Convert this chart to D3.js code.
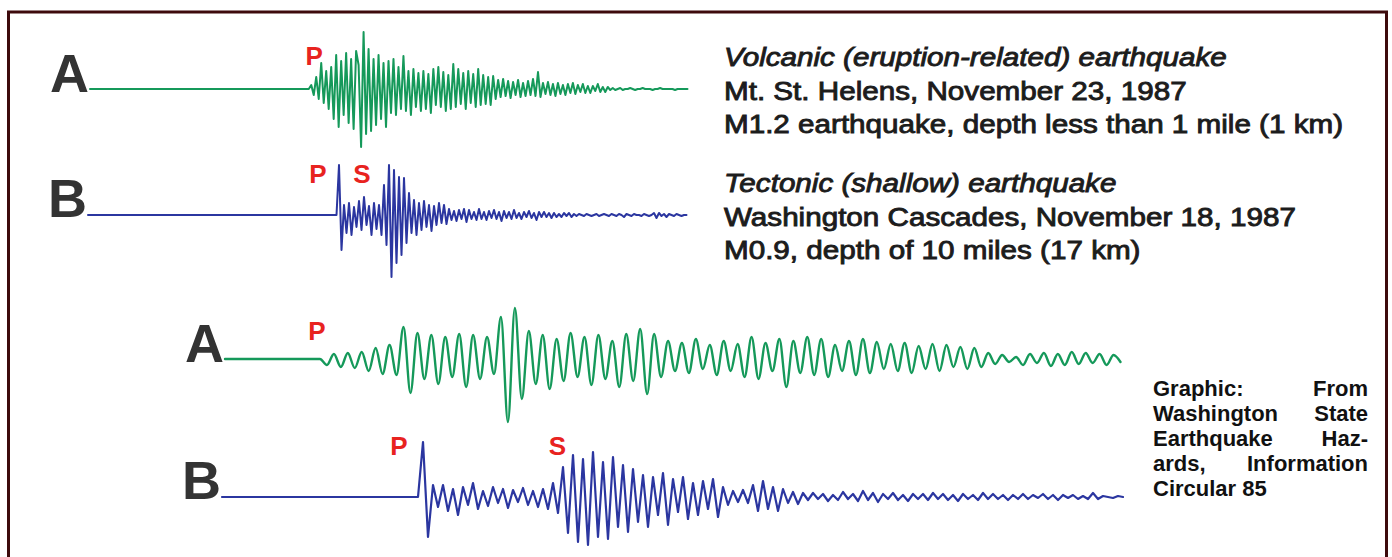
<!DOCTYPE html>
<html>
<head>
<meta charset="utf-8">
<script src="https://cdn.jsdelivr.net/npm/d3@7"></script>
<style>
  html, body { margin: 0; padding: 0; background: #fff; }
  svg { display: block; }
  .trace { fill: none; stroke-linejoin: round; stroke-linecap: round; }
  .big-label { font-family: 'Liberation Sans', Arial, sans-serif; font-weight: bold; fill: #333; }
  .phase { font-family: 'Liberation Sans', Arial, sans-serif; font-weight: bold; fill: #e8231f; }
  .desc { font-family: 'Liberation Sans', Arial, sans-serif; fill: #1c1c1c; stroke: #1c1c1c; stroke-width: 0.9; }
  .credit { font-family: 'Liberation Sans', Arial, sans-serif; font-weight: bold; fill: #111; }
</style>
</head>
<body>
<svg id="chart"></svg>
<script>
'use strict';

// upper pair: recordings at 0.25 s sampling, amplitudes in counts (up = +)
const seisA1 = [
    4, -6, 12, -10, 26, -14, 18, -20, 22,
    -30, 34, -38, 28, -26, 36, -34, 30, -40, 38, 24,
    -58, 57, -45,
    40, -42, 30, -36, 34, -30, 26, -38, 28, -24, 30, -26,
    22, -20, 33, -22, 18, -26, 20, -18, 16, -22,
    18, -20, 15, -24, 20, -16, 22, -18, 17, -22, 14, -20, 25, -18, 20, -15, 16, -20, 18, -14, 15, -18, 20, -16, 14, -15, 12, -16, 13,
    -10, 9, -8, 10, -7, 8, -9, 7, -6, 9, -8, 6, -7, 8, -6, 10, -7, 17, -8, 6, -5, 7, -6, 5, -7, 6, -5, 4, -6, 5, -4, 6, -5, 4, -3, 5, -4, 3, -4, 3, -2, 5, -3, 2, -3, 2,
    -1, 1, -1, 0, 1, -1, 0, 0, 1, 0, -1, 0, 0, 1, 0, 0, 0, -1, 0, 0, 1, 0, 0, 0, 0, 0, -1, 0, 0, 0, 0, 0
];

const seisB1 = [
    50, -35, 10, -18, 12, -20, 8,
    -12, 14, -15, 18, -10, 9, -20, 12, -14, 10,
    -20, 30, -30, 50, -62, 45, -48, 38, -40, 37,
    -28, 22, -18, 15, -20, 12, -15, 14, -12, 10, -16, 9, -10, 12, -8, 10, -9,
    6, -5, 4, -6, 5, -4, 6, -7, 5, -4, 3, -5, 6, -4, 3, -5, 4, -3, 5, -4, 3, -6, 4, -3, 3, -4, 5, -3, 2, -4, 3, -2, 4, -3, 2, -5, 3, -2, 3, -2, 2, -3, 2, -2, 1, -2, 2, -1, 2, -2, 1, -1, 1,
    0, -1, 1, 0, -1, 0, 1, -1, 0, 1, 0, -1, 1, 0, -1, 1, 0, -2, 1, 0, -1, 1, 0, 0, -1, 1, 0, -1, 0, 2, -3, 2, -1, 1, -2, 1, 0, -1, 1, 0, -1, 0, 0
];

// lower pair: longer records, peaks read at 0.7 s and 0.5 s
const seisA2 = [
    0,
    -6, 5, -8, 6, -9, 7,
    -12, 11, -15, 14, -16,
    32, -34,
    26, -20, 24, -25, 22, -18, 25, -28, 24, -20, 22, -15,
    42, -63, 51, -40,
    28, -25, 24, -30, 20, -22, 26, -18, 22, -26, 24, -20, 18, -28, 25, -22, 30, -35, 25,
    -18, 18, -12, 16, -14, 20, -10, 14, -16, 18, -12, 15, -18, 22, -20, 16, -12, 20, -28, 18, -14, 22, -16, 20, -18, 14, -12, 18, -16, 20, -14, 17, -10, 15, -12, 16, -14, 13, -10, 15, -12, 14, -8, 12, -10, 11, -8,
    6, -5, 4, -3, 2, -6, 5, -4, 6, -7, 5, -6, 7, -5, 6, -4, 5, -6, 4, -3
];

const seisB2 = [
    55, -40, 12,
    -10, 12, -14, 8, -18, 10, -8, 14, -12, 6, -9, 10, -6, 8, -11, 7, -5, 9, -8, 6, -10, 8, -12, 14, -16,
    30, -36, 42, -45, 38, -48, 45, -40, 35, -42, 40, -30, 32, -35,
    28, -25, 22, -30, 20, -18, 24, -28, 18, -15, 20, -22, 14, -18, 16, -12, 18, -20, 10,
    -8, 6, -5, 7, -6, 12, -14, 16, -12, 10, -14, 8, -6, 5, -7, 4,
    -3, 4, -2, 3, -4, 2, -3, 5, -2, 3, -4, 6, -3, 4, -5, 3, -2, 4, -3, 2, -4, 3, -2, 3, -3, 4, -2, 3, -3, 2, -4, 3, -2, 2, -3, 4, -2, 3, -2, 2, -3, 2, -2, 3, -2, 2, -1, 3, -2, 2, -3, 2, -1, 2, -2, 1, -2, 4, -2, 1, 0, -1, 1, 0
];

// time the trace leaves the baseline, sample step and record length (s)
const onsets = [21.95, 24.85, 8.85, 19.6];
const steps = [0.25, 0.25, 0.7, 0.5];
const durations = [60, 60, 90, 90];

// phase picks (s)
const phasesA1 = [{ name: 'P', t: 22.5 }];
const phasesB1 = [{ name: 'P', t: 23.0 }, { name: 'S', t: 27.4 }];
const phasesA2 = [{ name: 'P', t: 9.25 }];
const phasesB2 = [{ name: 'P', t: 17.7 }, { name: 'S', t: 33.55 }];

const descLines = [
    { text: 'Volcanic (eruption-related) earthquake', italic: true },
    { text: 'Mt. St. Helens, November 23, 1987' },
    { text: 'M1.2 earthquake, depth less than 1 mile (1 km)' },
    { text: 'Tectonic (shallow) earthquake', italic: true },
    { text: 'Washington Cascades, November 18, 1987' },
    { text: 'M0.9, depth of 10 miles (17 km)' }
];

const creditLines = ['Graphic: From', 'Washington State', 'Earthquake Haz-', 'ards, Information', 'Circular 85'];

const GREEN = '#15995a';
const BLUE = '#2b36a0';

const W = 1392, H = 557;

const panels = [
    { label: 'A', data: seisA1, phases: phasesA1, i: 0, color: GREEN, range: [90, 688], base: 89, labelY: 92, phaseY: 65, width: 2, curve: d3.curveLinear },
    { label: 'B', data: seisB1, phases: phasesB1, i: 1, color: BLUE, range: [88, 688], base: 215, labelY: 217, phaseY: 183, width: 2, curve: d3.curveLinear },
    { label: 'A', data: seisA2, phases: phasesA2, i: 2, color: GREEN, range: [225, 1120], base: 359, labelY: 362, phaseY: 340, width: 2.4, curve: d3.curveMonotoneX },
    { label: 'B', data: seisB2, phases: phasesB2, i: 3, color: BLUE, range: [222, 1122], base: 497, labelY: 499, phaseY: 455, width: 2.2, curve: d3.curveLinear }
];

const svg = d3.select('#chart')
    .attr('width', W)
    .attr('height', H);

svg.append('rect')
    .attr('width', W)
    .attr('height', H)
    .attr('fill', '#fff');

// frame
svg.append('rect')
    .attr('x', 8.5)
    .attr('y', 12)
    .attr('width', 1378)
    .attr('height', 600)
    .attr('fill', 'none')
    .attr('stroke', '#3d0a0c')
    .attr('stroke-width', 3);

function drawPanel(p){
    const x = d3.scaleLinear().domain([0, durations[p.i]]).range(p.range);
    const y = d3.scaleLinear().domain([-60, 60]).range([p.base + 60, p.base - 60]);

    const onset = onsets[p.i];
    const dt = steps[p.i];
    const pts = [{ t: 0, v: 0 }, { t: onset, v: 0 }]
        .concat(p.data.map((v, k) => ({ t: onset + (k + 1) * dt, v: v })));

    const line = d3.line()
        .x(d => x(d.t))
        .y(d => y(d.v))
        .curve(p.curve);

    svg.append('path')
        .attr('class', 'trace')
        .attr('d', line(pts))
        .attr('stroke', p.color)
        .attr('stroke-width', p.width);

    svg.append('text')
        .attr('class', 'big-label')
        .attr('x', p.range[0] - 1)
        .attr('y', p.labelY)
        .attr('text-anchor', 'end')
        .style('font-size', '54px')
        .text(p.label);

    svg.selectAll(null)
        .data(p.phases)
        .enter()
        .append('text')
        .attr('class', 'phase')
        .attr('x', d => x(d.t))
        .attr('y', p.phaseY)
        .attr('text-anchor', 'middle')
        .style('font-size', '26px')
        .text(d => d.name);
}

panels.forEach(drawPanel);

// description block, a little wider than the plain font
const descY = [66, 100, 133, 192, 226, 259];

svg.append('g')
    .attr('transform', 'translate(724,0) scale(1.14,1)')
    .selectAll('.desc')
    .data(descLines)
    .enter()
    .append('text')
    .attr('class', 'desc')
    .attr('x', 0)
    .attr('y', (d, i) => descY[i])
    .style('font-size', '26px')
    .style('font-style', d => d.italic ? 'italic' : 'normal')
    .text(d => d.text);

// justified credit block
function justifyLine(words, x0, x1, yPos, last){
    const g = svg.append('g');
    const nodes = words.map(w => g.append('text')
        .attr('class', 'credit')
        .attr('y', yPos)
        .style('font-size', '22px')
        .text(w));
    const widths = nodes.map(n => n.node().getComputedTextLength());
    const total = d3.sum(widths);
    const gap = last || words.length < 2 ? 6 : (x1 - x0 - total) / (words.length - 1);
    let cx = x0;
    nodes.forEach((n, i) => {
        n.attr('x', cx);
        cx += widths[i] + gap;
    });
}

creditLines.forEach((l, i) => {
    justifyLine(l.split(' '), 1153, 1368, 396 + i * 25, i === creditLines.length - 1);
});
</script>
</body>
</html>
